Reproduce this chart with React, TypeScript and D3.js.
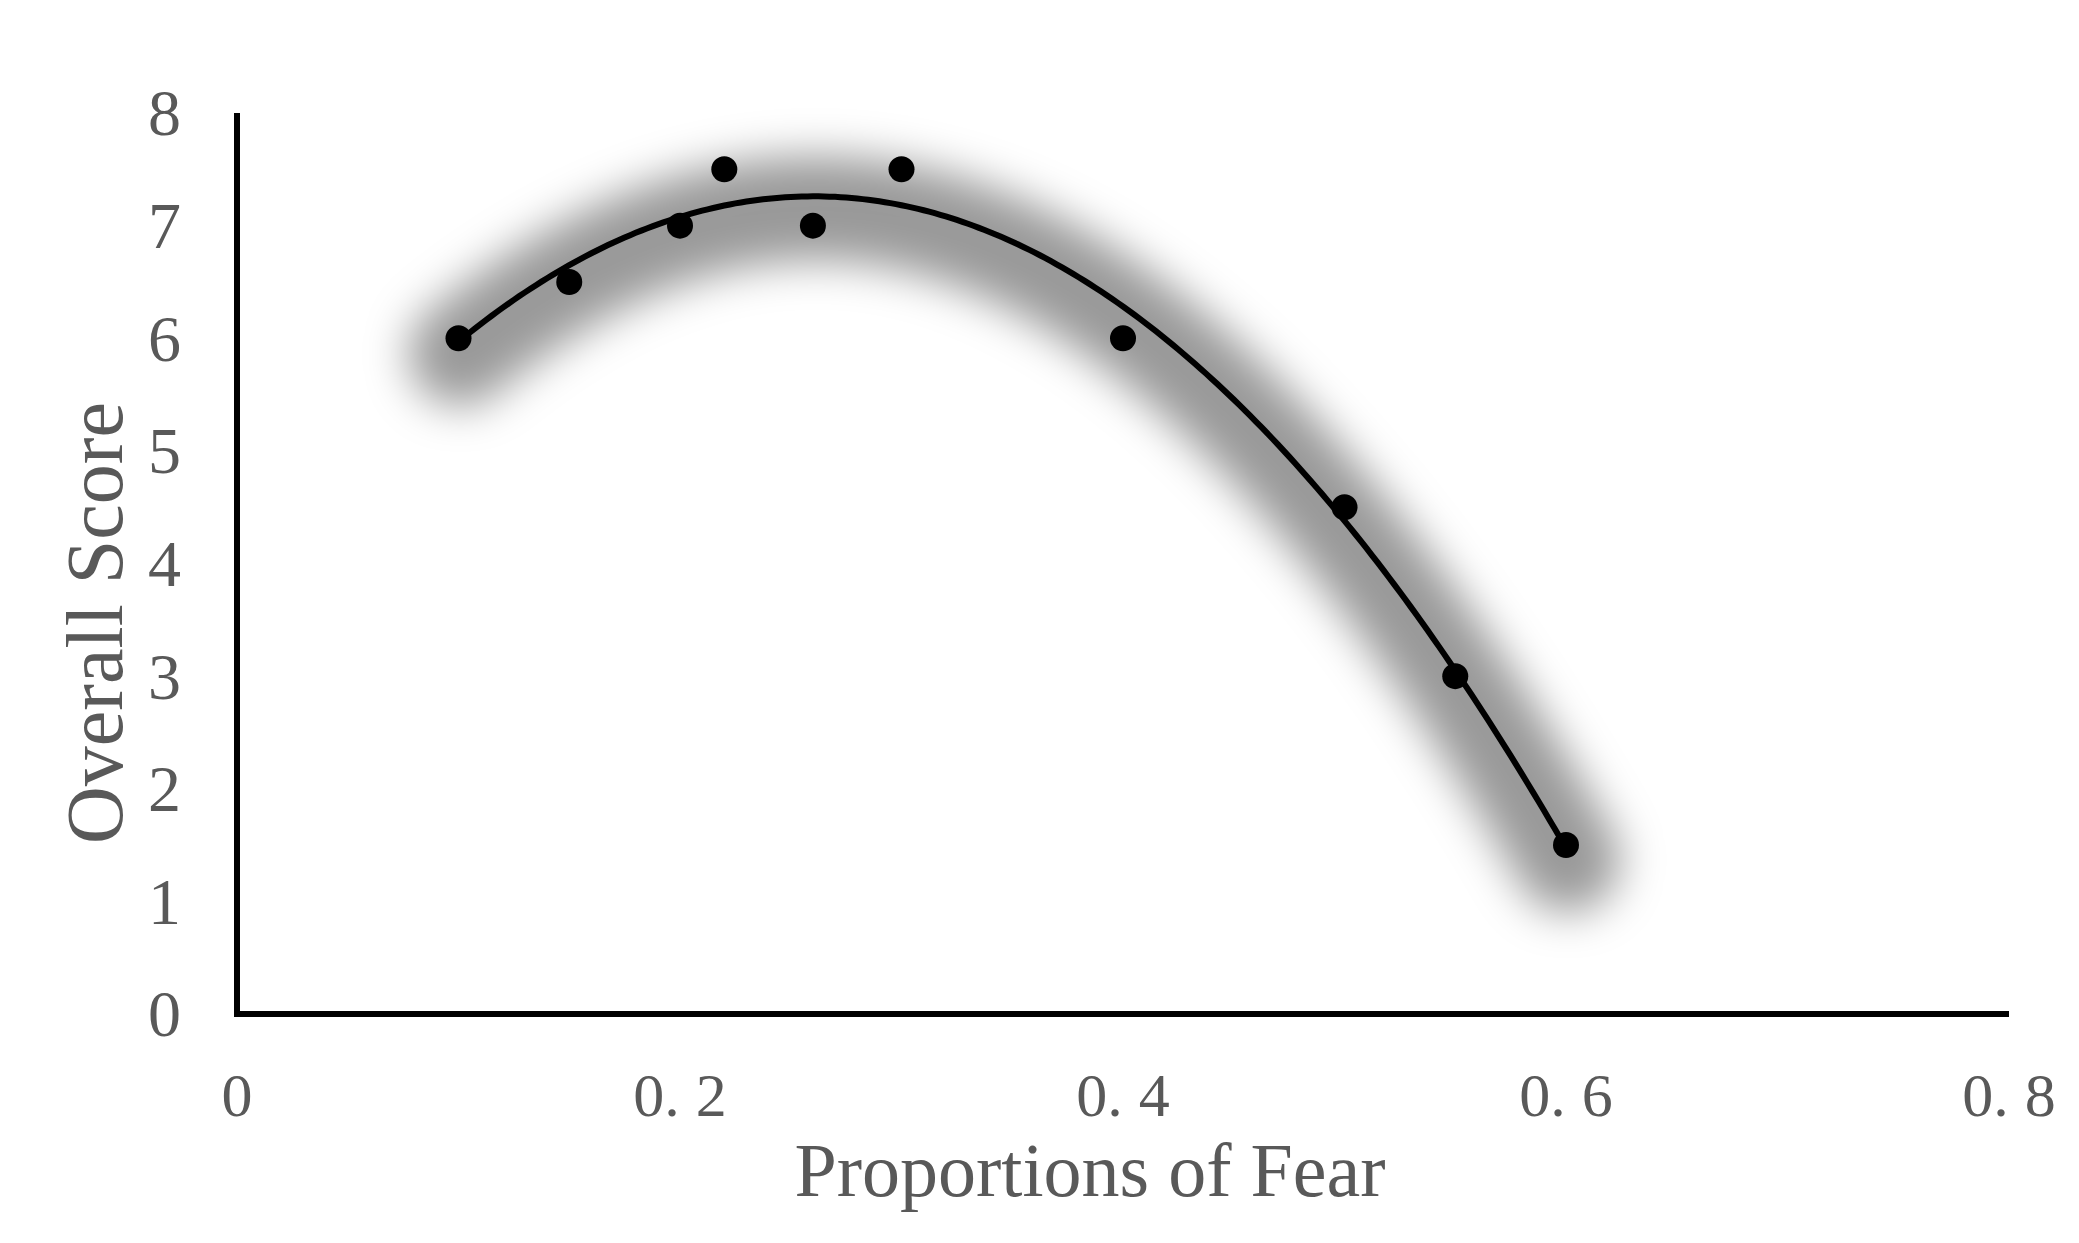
import React from "react";
import * as d3 from "d3";

const fearProportions = [0.1, 0.15, 0.2, 0.22, 0.26, 0.3, 0.4, 0.5, 0.55, 0.6];
const overallScores = [6, 6.5, 7, 7.5, 7, 7.5, 6, 4.5, 3, 1.5];
const xTicks = [0, 0.2, 0.4, 0.6, 0.8];
const yTicks = [0, 1, 2, 3, 4, 5, 6, 7, 8];

function quadFit(xs: number[], ys: number[]) {
  // least squares y = a + b x + c x^2
  const n = xs.length;
  let s0 = n, s1 = 0, s2 = 0, s3 = 0, s4 = 0, t0 = 0, t1 = 0, t2 = 0;
  for (let i = 0; i < n; i++) {
    const x = xs[i], y = ys[i];
    s1 += x; s2 += x * x; s3 += x * x * x; s4 += x * x * x * x;
    t0 += y; t1 += x * y; t2 += x * x * y;
  }
  const M = [
    [s0, s1, s2, t0],
    [s1, s2, s3, t1],
    [s2, s3, s4, t2],
  ];
  for (let i = 0; i < 3; i++) {
    let p = i;
    for (let r = i + 1; r < 3; r++) if (Math.abs(M[r][i]) > Math.abs(M[p][i])) p = r;
    [M[i], M[p]] = [M[p], M[i]];
    for (let r = 0; r < 3; r++) {
      if (r === i) continue;
      const f = M[r][i] / M[i][i];
      for (let c = i; c < 4; c++) M[r][c] -= f * M[i][c];
    }
  }
  const a = M[0][3] / M[0][0], b = M[1][3] / M[1][1], c = M[2][3] / M[2][2];
  return (x: number) => a + b * x + c * x * x;
}

export default function App() {
  const W = 2079, H = 1243;
  const x = d3.scaleLinear().domain([0, 0.8]).range([237, 2009]);
  const y = d3.scaleLinear().domain([0, 8]).range([1014, 113]);
  const f = quadFit(fearProportions, overallScores);
  const [x0, x1] = d3.extent(fearProportions) as [number, number];
  const samples = d3.range(0, 201).map((i) => x0 + ((x1 - x0) * i) / 200);
  const line = d3
    .line<number>()
    .x((d) => x(d))
    .y((d) => y(f(d)))
    .curve(d3.curveLinear);
  const pathD = line(samples) || "";
  const textColor = "#595959";
  const font = "'Liberation Serif', 'Times New Roman', serif";

  const fmtX = (v: number) => {
    if (v === 0) return [<tspan key="a">0</tspan>];
    const s = v.toFixed(1).split(".");
    return [
      <tspan key="a">{s[0] + "."}</tspan>,
      <tspan key="b" dx={16}>{s[1]}</tspan>,
    ];
  };

  return (
    <div style={{ position: "absolute", left: 0, top: 0 }}>
      <svg width={W} height={H} style={{ display: "block", background: "#fff" }}>
        <defs>
          <filter id="glow" filterUnits="userSpaceOnUse" x="150" y="0" width="1600" height="1150">
            <feGaussianBlur stdDeviation="22" />
          </filter>
        </defs>
        {/* shadow */}
        <path
          d={pathD}
          transform="translate(2,12)"
          fill="none"
          stroke="#000"
          strokeOpacity={0.4}
          strokeWidth={104}
          strokeLinecap="round"
          strokeLinejoin="round"
          filter="url(#glow)"
        />
        {/* axes */}
        <line x1={x(0)} x2={x(0)} y1={y(8)} y2={y(0) + 3} stroke="#000" strokeWidth={6} />
        <line x1={x(0) - 3} x2={x(0.8)} y1={y(0)} y2={y(0)} stroke="#000" strokeWidth={6} />
        {/* trend line */}
        <path d={pathD} fill="none" stroke="#000" strokeWidth={6} />
        {/* points */}
        {fearProportions.map((v, i) => (
          <circle key={i} cx={x(v)} cy={y(overallScores[i])} r={13} fill="#000" />
        ))}
        {/* y ticks */}
        {yTicks.map((t) => (
          <text
            key={"y" + t}
            x={181}
            y={y(t)}
            dy="0.34em"
            textAnchor="end"
            fontFamily={font}
            fontSize={66}
            fill={textColor}
          >
            {t}
          </text>
        ))}
        {/* x ticks */}
        {xTicks.map((t) => (
          <text
            key={"x" + t}
            x={x(t)}
            y={1116}
            textAnchor="middle"
            fontFamily={font}
            fontSize={62}
            fill={textColor}
          >
            {fmtX(t)}
          </text>
        ))}
        {/* axis titles */}
        <text
          x={1090}
          y={1196}
          textAnchor="middle"
          fontFamily={font}
          fontSize={76}
          fill={textColor}
        >
          Proportions of Fear
        </text>
        <text
          transform={`translate(122,623) rotate(-90)`}
          textAnchor="middle"
          fontFamily={font}
          fontSize={80}
          fill={textColor}
        >
          Overall Score
        </text>
      </svg>
    </div>
  );
}
